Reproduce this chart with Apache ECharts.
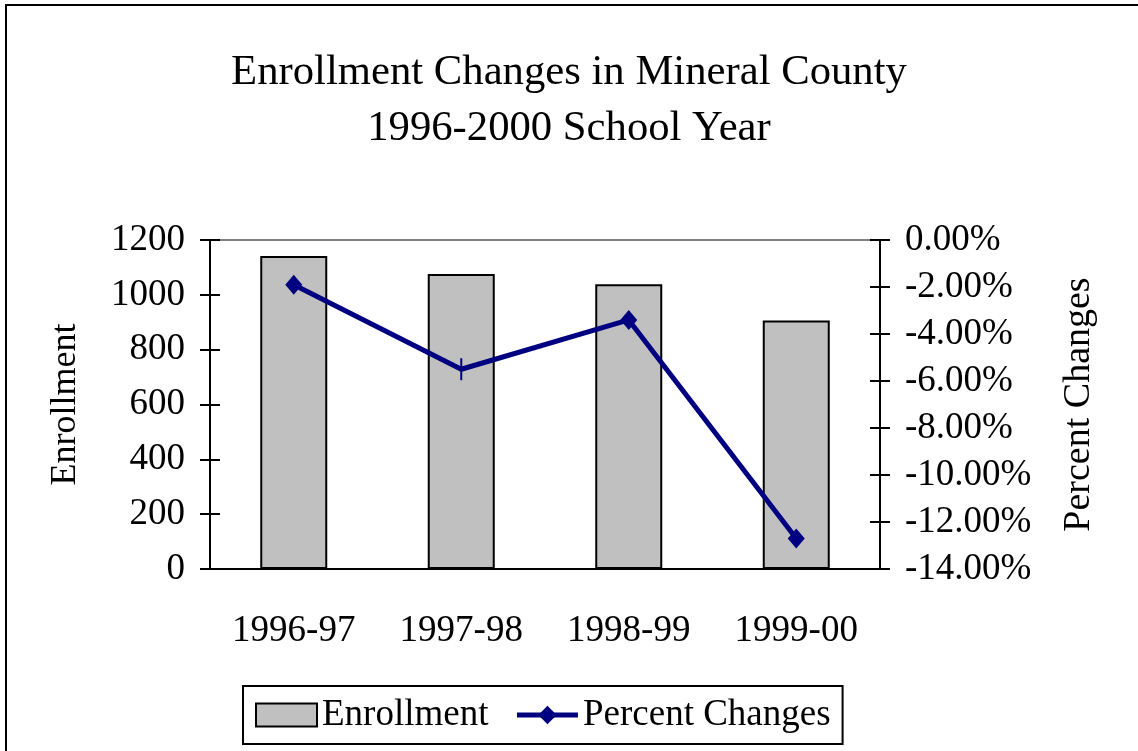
<!DOCTYPE html>
<html>
<head>
<meta charset="utf-8">
<script src="https://cdn.jsdelivr.net/npm/echarts@6/dist/echarts.min.js"></script>
<style>
  html, body { margin: 0; padding: 0; background: #fff; }
  #main { width: 1138px; height: 751px; }
</style>
</head>
<body>
<div id="main"></div>
<script>
var years = ['1996-97', '1997-98', '1998-99', '1999-00'];
var enrollment = [1142, 1076, 1039, 906];
var pctChange = [-1.9, -5.5, -3.4, -12.7];

var FONT = '"Liberation Serif", "Times New Roman", serif';

var chart = echarts.init(document.getElementById('main'));

// the second point is drawn as a thin tick in the picture
var lineData = pctChange.map(function (v, i) {
    if (i === 1) {
        return { value: v, symbol: 'rect', symbolSize: [2, 22] };
    }
    return v;
});

var option = {
    backgroundColor: '#fff',
    animation: false,
    textStyle: { fontFamily: FONT, color: '#000' },
    title: {
        text: 'Enrollment Changes in Mineral County\n1996-2000 School Year',
        left: 'center',
        top: 40,
        padding: [5, 0, 5, 8],
        textStyle: { fontFamily: FONT, fontSize: 42.7, fontWeight: 'normal', lineHeight: 56, color: '#000' }
    },
    grid: { left: 210, right: 258, top: 240, bottom: 182 },
    legend: {
        left: 243,
        top: 686,
        padding: [9, 12, 9, 12],
        itemGap: 26,
        itemWidth: 61,
        itemHeight: 23,
        borderColor: '#000',
        borderWidth: 2,
        lineStyle: { width: 5 },
        textStyle: { fontFamily: FONT, fontSize: 37, lineHeight: 40, color: '#000' },
        data: [{ name: 'Enrollment', icon: 'rect' }, { name: 'Percent Changes' }]
    },
    xAxis: [
        {
            type: 'category',
            data: years,
            position: 'bottom',
            axisLine: { onZero: false, lineStyle: { color: '#000', width: 2 } },
            axisTick: { length: 10, lineStyle: { color: '#000', width: 2 } },
            axisLabel: {
                fontFamily: FONT, fontSize: 37, color: '#000', margin: 44,
                interval: 0
            }
        },
        {
            type: 'category',
            data: years,
            position: 'bottom',
            axisLine: { show: false, onZero: false },
            axisTick: { inside: true, length: 12, lineStyle: { color: '#000', width: 2 } },
            axisLabel: { show: false }
        },
        {
            type: 'category',
            data: years,
            position: 'top',
            axisLine: { onZero: false, lineStyle: { color: '#808080', width: 2 } },
            axisTick: { show: false },
            axisLabel: { show: false }
        }
    ],
    yAxis: [
        {
            type: 'value',
            position: 'left',
            min: 0, max: 1200, interval: 200,
            name: 'Enrollment',
            nameLocation: 'middle',
            nameRotate: 90,
            nameGap: 126,
            nameTextStyle: { fontFamily: FONT, fontSize: 36, color: '#000' },
            axisLine: { show: true, onZero: false, lineStyle: { color: '#000', width: 2 } },
            axisTick: { show: true, length: 10, lineStyle: { color: '#000', width: 2 } },
            axisLabel: {
                fontFamily: FONT, fontSize: 37, color: '#000', margin: 25,
                formatter: function (v) { return String(v); }
            },
            splitLine: { show: false }
        },
        {
            type: 'value',
            position: 'right',
            min: -14, max: 0, interval: 2,
            name: 'Percent Changes',
            nameLocation: 'middle',
            nameRotate: 90,
            nameGap: 180,
            nameTextStyle: { fontFamily: FONT, fontSize: 38, color: '#000' },
            axisLine: { show: true, onZero: false, lineStyle: { color: '#000', width: 2 } },
            axisTick: { show: true, length: 10, lineStyle: { color: '#000', width: 2 } },
            axisLabel: {
                fontFamily: FONT, fontSize: 37, color: '#000', margin: 25,
                formatter: function (v) { return v.toFixed(2) + '%'; }
            },
            splitLine: { show: false }
        },
        {
            type: 'value',
            position: 'left',
            min: 0, max: 1200, interval: 200,
            axisLine: { show: false, onZero: false },
            axisTick: { show: true, inside: true, length: 10, lineStyle: { color: '#000', width: 2 } },
            axisLabel: { show: false },
            splitLine: { show: false }
        },
        {
            type: 'value',
            position: 'right',
            min: -14, max: 0, interval: 2,
            axisLine: { show: false, onZero: false },
            axisTick: { show: true, inside: true, length: 10, lineStyle: { color: '#000', width: 2 } },
            axisLabel: { show: false },
            splitLine: { show: false }
        }
    ],
    series: [
        {
            name: 'Enrollment',
            type: 'bar',
            xAxisIndex: 0,
            yAxisIndex: 0,
            barWidth: '40%',
            data: enrollment,
            itemStyle: { color: '#c0c0c0', borderColor: '#000', borderWidth: 2 }
        },
        {
            name: 'Percent Changes',
            type: 'line',
            xAxisIndex: 0,
            yAxisIndex: 1,
            data: lineData,
            symbol: 'diamond',
            symbolSize: [17, 20],
            lineStyle: { color: '#000080', width: 5 },
            itemStyle: { color: '#000080' }
        }
    ],
    graphic: [
        {
            type: 'rect',
            shape: { x: 6, y: 5, width: 1150, height: 770 },
            style: { fill: 'none', stroke: '#000', lineWidth: 2 },
            silent: true
        }
    ]
};

chart.setOption(option);
</script>
</body>
</html>
